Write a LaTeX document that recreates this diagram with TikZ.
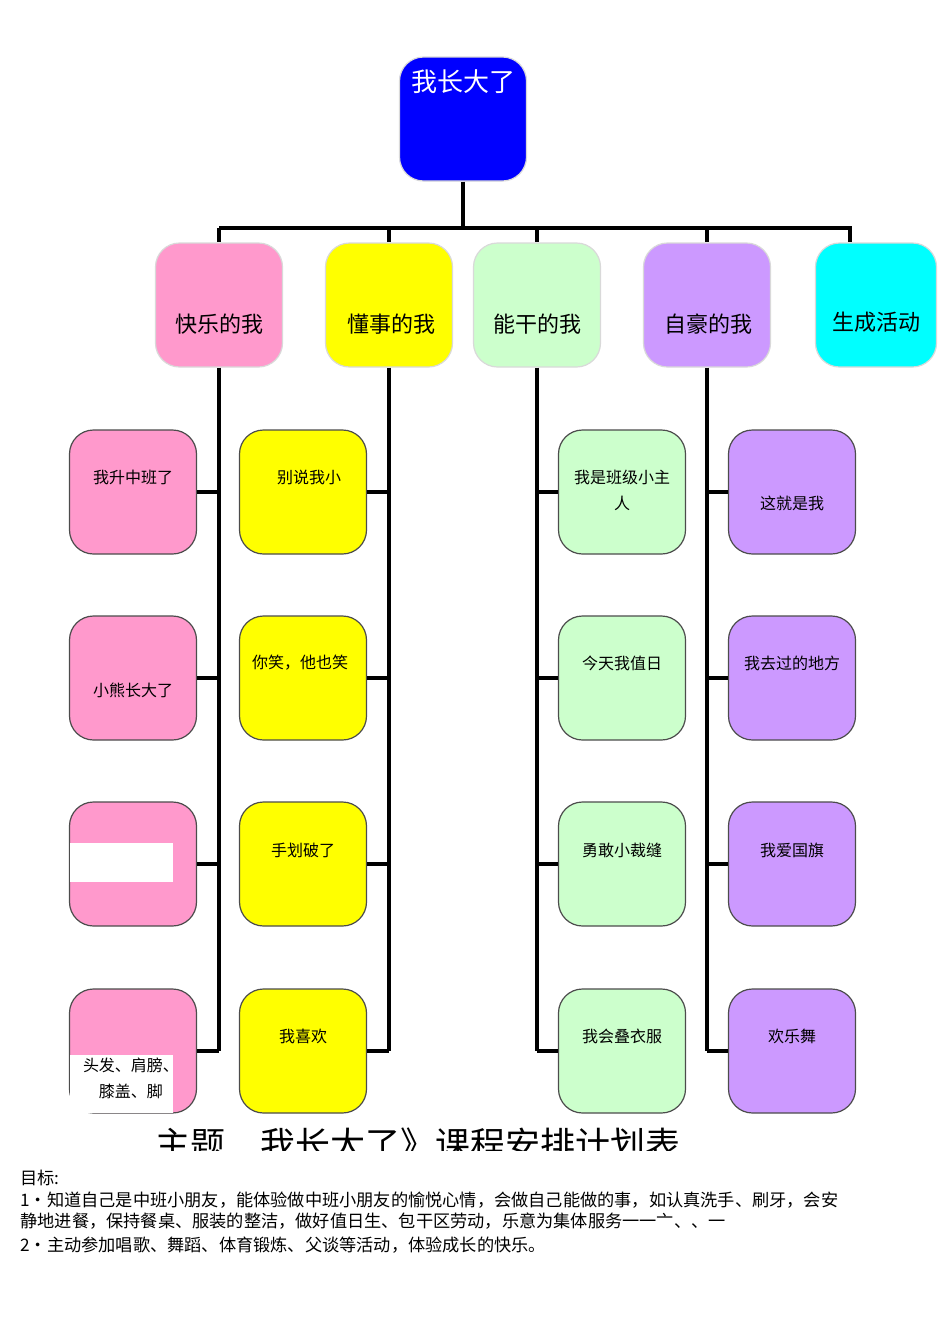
\documentclass[tikz,border=0pt]{standalone}
\usepackage{fontspec}
\setmainfont{Noto Sans CJK SC}
\usetikzlibrary{positioning}
\definecolor{RootColor}{RGB}{0,0,255}
\definecolor{HappyColor}{RGB}{255,153,204}
\definecolor{SmartColor}{RGB}{255,255,0}
\definecolor{AbleColor}{RGB}{204,255,204}
\definecolor{ProudColor}{RGB}{204,153,255}
\definecolor{ExtraColor}{RGB}{0,255,255}
\tikzset{
  box/.style={draw=black!70, rounded corners=12pt, minimum width=63.5pt, minimum height=62pt, line width=0.6pt},
  cat/.style={box, draw=black!15, font=\fontsize{11pt}{13pt}\selectfont},
  leaf/.style={box, font=\fontsize{8pt}{13pt}\selectfont, align=center},
  txt/.style={inner sep=0pt, align=center},
  bar/.style={line width=1.6pt}
}
\begin{document}
\begin{tikzpicture}[x=0.5pt, y=-0.5pt]
      \useasboundingbox (0,0) rectangle (950,1344);

      % Root
      \node[box, draw=black!15, fill=RootColor, minimum height=62pt] (root) at (463,119) {};
      \node[txt, text=white, font=\fontsize{13pt}{15pt}\selectfont] (rootlbl) at (463,82) {我长大了};

      % Categories
      \node[cat, fill=HappyColor] (happy) at (219,305) {};
      \node[cat, fill=SmartColor] (smart) at (389,305) {};
      \node[cat, fill=AbleColor] (able) at (537,305) {};
      \node[cat, fill=ProudColor] (proud) at (707,305) {};
      \node[cat, fill=ExtraColor, minimum width=60.5pt] (extra) at (876,305) {};
      \node[txt, font=\fontsize{11pt}{13pt}\selectfont] (happylbl) at (219,324) {快乐的我};
      \node[txt, font=\fontsize{11pt}{13pt}\selectfont] (smartlbl) at (391,324) {懂事的我};
      \node[txt, font=\fontsize{11pt}{13pt}\selectfont] (ablelbl) at (537,324) {能干的我};
      \node[txt, font=\fontsize{11pt}{13pt}\selectfont] (proudlbl) at (708,324) {自豪的我};
      \node[txt, font=\fontsize{11pt}{13pt}\selectfont] (extralbl) at (876,322) {生成活动};

      % Bus
      \coordinate (bus) at (463,228);
      \coordinate (busend) at (850,228);
      \draw[bar] (root.south) -- (bus);
      \draw[bar] (happy.north |- bus) -- (bus) -- (busend) -- (busend |- extra.north);
      \foreach \c in {happy,smart,able,proud}
        \draw[bar] (\c.north |- bus) -- (\c.north);

      % Leaves
      \foreach \n/\y in {1/492,2/678,3/864,4/1051} {
        \node[leaf, fill=HappyColor] (happy\n) at (133,\y) {};
        \node[leaf, fill=SmartColor] (smart\n) at (303,\y) {};
        \node[leaf, fill=AbleColor] (able\n) at (622,\y) {};
        \node[leaf, fill=ProudColor] (proud\n) at (792,\y) {};
        \draw[bar] (happy\n.east) -- (happy.south |- happy\n.east);
        \draw[bar] (smart\n.east) -- (smart.south |- smart\n.east);
        \draw[bar] (able\n.west) -- (able.south |- able\n.west);
        \draw[bar] (proud\n.west) -- (proud.south |- proud\n.west);
      }
      \foreach \c in {happy,smart,able,proud}
        \draw[bar] (\c.south) -- (\c.south |- \c4.east);

      % Leaf texts
      \tikzset{lt/.style={txt, font=\fontsize{8pt}{13pt}\selectfont}}
      \node[lt] (t11) at (133,477) {我升中班了};
      \node[lt] (t12) at (133,690) {小熊长大了};
      \fill[white] (70,843) rectangle (173,882);
      \fill[white] (70,1055) rectangle (173,1113);
      \node[lt] (t14) at (131,1078) {头发、肩膀、\\膝盖、脚};
      \node[lt] (t21) at (309,477) {别说我小};
      \node[lt] (t22) at (300,663) {你笑，他也笑};
      \node[lt] (t23) at (303,850) {手划破了};
      \node[lt] (t24) at (303,1036) {我喜欢};
      \node[lt] (t31) at (622,490) {我是班级小主\\人};
      \node[lt] (t32) at (622,663) {今天我值日};
      \node[lt] (t33) at (622,850) {勇敢小裁缝};
      \node[lt] (t34) at (622,1036) {我会叠衣服};
      \node[lt] (t41) at (792,503) {这就是我};
      \node[lt] (t42) at (792,663) {我去过的地方};
      \node[lt] (t43) at (792,850) {我爱国旗};
      \node[lt] (t44) at (792,1036) {欢乐舞};

      % Title and goals
      \node[txt, font=\fontsize{17.5pt}{19pt}\selectfont] (title) at (418,1144) {主题\quad 我长大了》课程安排计划表};
      \fill[white] (100,1151) rectangle (720,1166);
      \node[txt, anchor=north west, align=left, font=\fontsize{8.6pt}{10.6pt}\selectfont] (goals) at (20,1170)
        {目标:\\1•知道自己是中班小朋友，能体验做中班小朋友的愉悦心情，会做自己能做的事，如认真洗手、刷牙，会安\\静地进餐，保持餐桌、服装的整洁，做好值日生、包干区劳动，乐意为集体服务一一亠、、一\\[1.5pt]2•主动参加唱歌、舞蹈、体育锻炼、父谈等活动，体验成长的快乐。};
    \end{tikzpicture}
\end{document}
